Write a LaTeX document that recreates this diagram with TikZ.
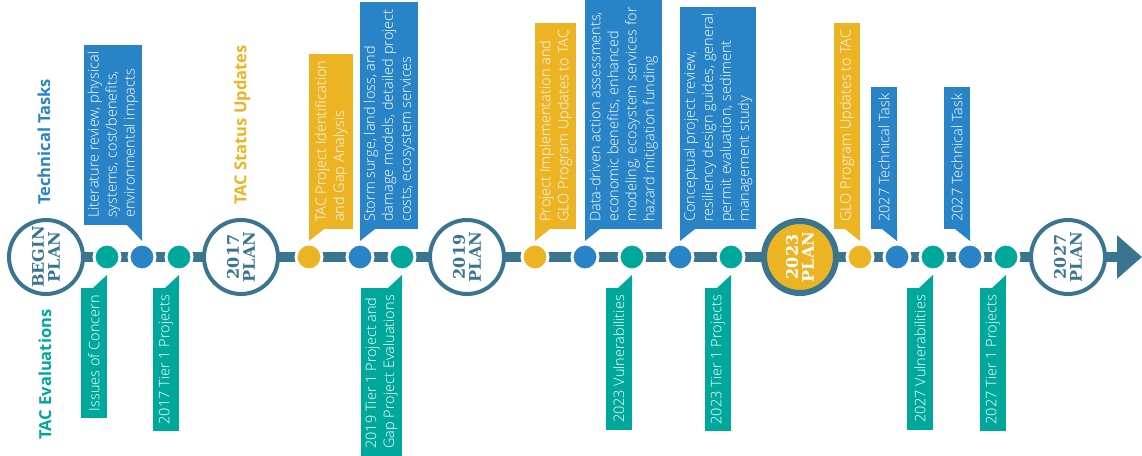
\documentclass[tikz,border=0pt]{standalone}
\usepackage{fontspec}
\IfFontExistsTF{Open Sans Light}{\setmainfont{Open Sans Light}}{\setmainfont{Open Sans}}
\newfontfamily\headfont{Open Sans}
\newfontfamily\slab{DejaVu Serif}[BoldFont={DejaVu Serif Bold}]
\usetikzlibrary{calc,
	positioning,
	arrows.meta}
\definecolor{axisc}{HTML}{3A7590}
\definecolor{tblue}{HTML}{2884C6}
\definecolor{tyel}{HTML}{ECB322}
\definecolor{tteal}{HTML}{00A89C}
\tikzstyle{plan}=[circle, draw=axisc, line width=4pt, fill=white, minimum size=74pt,
		inner sep=0, text=axisc, align=center, rotate=90,
		font=\slab\bfseries\fontsize{16}{16}\selectfont]
\tikzstyle{evt}=[circle, draw=white, line width=3pt, minimum size=26pt, inner sep=0, outer sep=0]
\tikzstyle{callout}=[rotate=90, text=white, inner xsep=7pt, inner ysep=0pt, align=left,
		font=\fontsize{14.5}{18}\selectfont]
\tikzstyle{lane}=[rotate=90, anchor=west, inner sep=0, font=\headfont\bfseries\fontsize{16.5}{18}\selectfont]

\begin{document}
\begin{tikzpicture}[x=1pt, y=1pt]
                \useasboundingbox (0,0) rectangle (1142,455);
                % timeline
                \coordinate (axs) at (46,198);
                \coordinate (tip) at (1142,198);
                \draw[axisc, line width=10pt, -{Triangle[length=25pt,width=42pt]}] (axs) -- (tip);

                % events on the line
                \node[evt, fill=tteal] (dIssues) at (107,198) {};
                \node[evt, fill=tblue] (dLit) at (142,198) {};
                \node[evt, fill=tteal] (dT17) at (179,198) {};
                \node[evt, fill=tyel] (dIdent) at (309,198) {};
                \node[evt, fill=tblue] (dStorm) at (360,198) {};
                \node[evt, fill=tteal] (dT19) at (402,198) {};
                \node[evt, fill=tyel] (dImpl) at (535,198) {};
                \node[evt, fill=tblue] (dData) at (585,198) {};
                \node[evt, fill=tteal] (dV23) at (632,198) {};
                \node[evt, fill=tblue] (dConc) at (680,198) {};
                \node[evt, fill=tteal] (dT23) at (731,198) {};
                \node[evt, fill=tyel] (dGLO) at (860,198) {};
                \node[evt, fill=tblue] (dTaskA) at (897,198) {};
                \node[evt, fill=tteal] (dV27) at (933,198) {};
                \node[evt, fill=tblue] (dTaskB) at (970,198) {};
                \node[evt, fill=tteal] (dT27) at (1006,198) {};

                % plans
                \node[plan] (pBegin) at (46,198) {BEGIN\\PLAN};
                \node[plan] (p2017) at (241,198) {2017\\PLAN};
                \node[plan] (p2019) at (467,198) {2019\\PLAN};
                \node[plan, fill=tyel, text=white, line width=6pt, minimum size=72pt] (p2023) at (800,198) {2023\\PLAN};
                \node[plan] (p2027) at (1068,198) {2027\\PLAN};

                % lane titles
                \node[lane, text=tblue] (hTech) at (44,250) {Technical Tasks};
                \node[lane, text=tyel] (hStatus) at (242,250) {TAC Status Updates};
                \node[lane, text=tteal] (hEval) at (45,15) {TAC Evaluations};

                % upper callouts
                \node[callout, fill=tblue, anchor=south west, minimum height=58pt] (tLit) at ([yshift=32]dLit.center) {Literature review, physical\\systems, cost/benefits,\\environmental impacts};
                \fill[tblue] (tLit.south west) -- ++(-15,0) -- ([yshift=3]dLit.north) -- cycle;
                \node[callout, fill=tyel, anchor=north west, minimum height=44pt] (tIdent) at ([yshift=28]dIdent.center) {TAC Project Identification\\and Gap Analysis};
                \fill[tyel] (tIdent.north west) -- ++(15,0) -- ([yshift=3]dIdent.north) -- cycle;
                \node[callout, fill=tblue, anchor=north west, minimum height=58pt] (tStorm) at ([yshift=28]dStorm.center) {Storm surge, land loss, and\\damage models, detailed project\\costs, ecosystem services};
                \fill[tblue] (tStorm.north west) -- ++(15,0) -- ([yshift=3]dStorm.north) -- cycle;
                \node[callout, fill=tyel, anchor=north west, minimum height=41pt] (tImpl) at ([yshift=28]dImpl.center) {Project Implementation and\\GLO Program Updates to TAC};
                \fill[tyel] (tImpl.north west) -- ++(15,0) -- ([yshift=3]dImpl.north) -- cycle;
                \node[callout, fill=tblue, anchor=north west, minimum height=77pt] (tData) at ([yshift=28]dData.center) {Data-driven action assessments,\\economic benefits, enhanced\\modeling, ecosystem services for\\hazard mitigation funding};
                \fill[tblue] (tData.north west) -- ++(15,0) -- ([yshift=3]dData.north) -- cycle;
                \node[callout, fill=tblue, anchor=north west, minimum height=76pt] (tConc) at ([yshift=28]dConc.center) {Conceptual project review,\\resiliency design guides, general\\permit evaluation, sediment\\management study};
                \fill[tblue] (tConc.north west) -- ++(15,0) -- ([yshift=3]dConc.north) -- cycle;
                \node[callout, fill=tyel, anchor=south west, minimum height=26pt] (tGLO) at ([yshift=28]dGLO.center) {GLO Program Updates to TAC};
                \fill[tyel] (tGLO.south west) -- ++(-15,0) -- ([yshift=3]dGLO.north) -- cycle;
                \node[callout, fill=tblue, anchor=south west, minimum height=26pt] (tTaskA) at ([yshift=28]dTaskA.center) {2027 Technical Task};
                \fill[tblue] (tTaskA.south west) -- ++(-15,0) -- ([yshift=3]dTaskA.north) -- cycle;
                \node[callout, fill=tblue, anchor=south west, minimum height=26pt] (tTaskB) at ([yshift=28]dTaskB.center) {2027 Technical Task};
                \fill[tblue] (tTaskB.south west) -- ++(-15,0) -- ([yshift=3]dTaskB.north) -- cycle;

                % lower callouts
                \node[callout, fill=tteal, anchor=south east, minimum height=26pt] (bIssues) at ([yshift=-31]dIssues.center) {Issues of Concern};
                \fill[tteal] (bIssues.south east) -- ++(-14,0) -- ([yshift=-5]dIssues.south) -- cycle;
                \node[callout, fill=tteal, anchor=south east, minimum height=26pt] (bT17) at ([yshift=-31]dT17.center) {2017 Tier 1 Projects};
                \fill[tteal] (bT17.south east) -- ++(-14,0) -- ([yshift=-5]dT17.south) -- cycle;
                \node[callout, fill=tteal, anchor=south east, minimum height=41pt] (bT19) at ([yshift=-31]dT19.center) {2019 Tier 1 Project and\\Gap Project Evaluations};
                \fill[tteal] (bT19.south east) -- ++(-14,0) -- ([yshift=-5]dT19.south) -- cycle;
                \node[callout, fill=tteal, anchor=south east, minimum height=26pt] (bV23) at ([yshift=-31]dV23.center) {2023 Vulnerabilities};
                \fill[tteal] (bV23.south east) -- ++(-14,0) -- ([yshift=-5]dV23.south) -- cycle;
                \node[callout, fill=tteal, anchor=south east, minimum height=26pt] (bT23) at ([yshift=-31]dT23.center) {2023 Tier 1 Projects};
                \fill[tteal] (bT23.south east) -- ++(-14,0) -- ([yshift=-5]dT23.south) -- cycle;
                \node[callout, fill=tteal, anchor=south east, minimum height=26pt] (bV27) at ([yshift=-31]dV27.center) {2027 Vulnerabilities};
                \fill[tteal] (bV27.south east) -- ++(-14,0) -- ([yshift=-5]dV27.south) -- cycle;
                \node[callout, fill=tteal, anchor=south east, minimum height=26pt] (bT27) at ([yshift=-31]dT27.center) {2027 Tier 1 Projects};
                \fill[tteal] (bT27.south east) -- ++(-14,0) -- ([yshift=-5]dT27.south) -- cycle;
            \end{tikzpicture}
\end{document}
